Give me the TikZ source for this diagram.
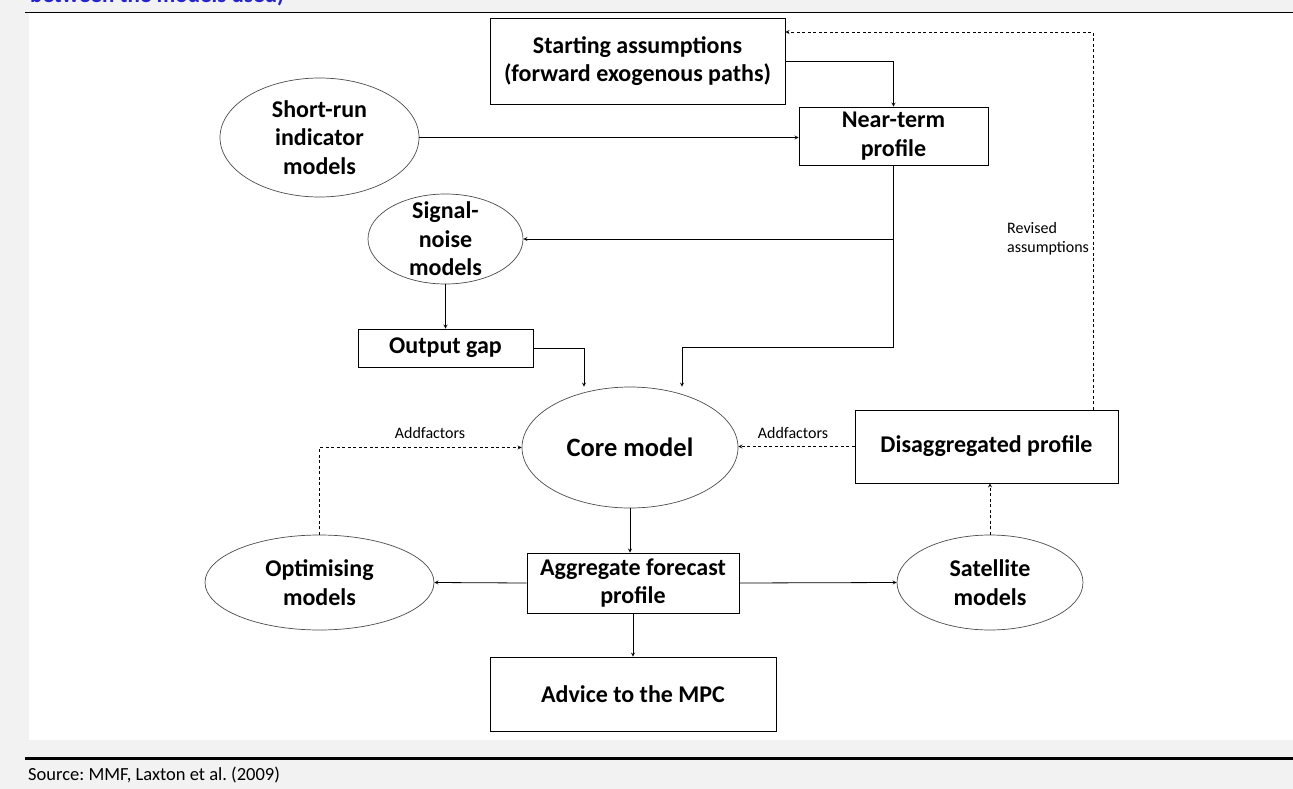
\documentclass[tikz,border=0pt]{standalone}
\usepackage{fontspec}
\setmainfont{Carlito}
\usetikzlibrary{shapes.geometric}

\definecolor{pagegrey}{RGB}{242,242,242}
\definecolor{headblue}{RGB}{36,36,204}

\frenchspacing

\begin{document}
\begin{tikzpicture}[x=1pt,y=-1pt,
  box/.style={draw, line width=0.8pt, inner sep=0pt, align=center,
    font=\fontsize{24}{28.5}\selectfont\bfseries},
  oval/.style={draw=black!70, line width=0.7pt, ellipse, inner sep=0pt},
  txt/.style={align=center, font=\fontsize{24}{28.5}\selectfont\bfseries},
  arr/.style={-stealth, line width=0.8pt},
  darr/.style={-stealth, line width=0.8pt, dash pattern=on 3pt off 2.5pt},
  note/.style={inner sep=0pt, font=\fontsize{16}{19}\selectfont}]

\useasboundingbox (0,0) rectangle (1293,789);

% page, panel and rules
\fill[pagegrey] (0,0) rectangle (1293,789);
\fill[white] (29,13) rectangle (1293,740);
\draw[line width=1.1pt] (25,12.5) -- (1293,12.5);
\draw[line width=2.5pt] (25,758.5) -- (1293,758.5);
\node[anchor=base west, inner sep=0pt, text=headblue,
  font=\fontsize{23}{26}\selectfont\bfseries] (head) at (30,2.5) {between the models used)};
\node[anchor=base west, inner sep=0pt,
  font=\fontsize{18.5}{20}\selectfont] (src) at (28,780) {Source: MMF, Laxton et al. (2009)};

% boxes
\node[box, minimum width=295pt, minimum height=86pt] (start) at (637.5,61) {Starting assumptions\\(forward exogenous paths)};
\node[box, minimum width=189pt, minimum height=58pt] (near) at (893.5,136) {Near-term\\profile};
\node[box, minimum width=175pt, minimum height=38pt] (outgap) at (445.5,348) {Output gap};
\node[box, minimum width=212pt, minimum height=60pt] (aggr) at (633,583) {Aggregate forecast\\profile};
\node[box, minimum width=286pt, minimum height=74pt] (advice) at (633,694) {Advice to the MPC};
\node[box, minimum width=263pt, minimum height=73pt] (disagg) at (986.5,446.5) {Disaggregated profile};

% ellipses
\node[oval, minimum width=199pt, minimum height=119pt,
  label={[txt]center:{Short-run\\indicator\\models}}] (shortrun) at (319.5,137.5) {};
\node[oval, minimum width=155pt, minimum height=90pt,
  label={[txt]center:{Signal-\\noise\\models}}] (signal) at (445.5,239) {};
\node[oval, minimum width=216pt, minimum height=121pt,
  label={[txt, font=\fontsize{26.5}{29}\selectfont\bfseries]center:{Core model}}] (core) at (630,447.5) {};
\node[oval, minimum width=229pt, minimum height=95pt,
  label={[txt]center:{Optimising\\models}}] (optim) at (319.5,582.5) {};
\node[oval, minimum width=186pt, minimum height=95pt,
  label={[txt]center:{Satellite\\models}}] (satel) at (990,582.5) {};

% solid flows
\draw[arr] (start.east) -| (near.north);
\draw[arr] (shortrun.east) -- (shortrun.east -| near.west);
\draw[arr] (near.south) |- (signal.east);
\coordinate (nturn) at (893.5,347);
\draw[arr] (near.south) -- (nturn) -| ([xshift=52pt]core.north);
\draw[arr] (signal.south) -- (outgap.north);
\draw[arr] (outgap.east) -| ([xshift=-46pt]core.north);
\draw[arr] (core.south) -- (core.south |- aggr.north);
\draw[arr] (aggr.west) -- (optim.east);
\draw[arr] (aggr.east) -- (satel.west);
\draw[arr] (aggr.south) -- (advice.north);

% dashed feedback
\draw[darr] (optim.north) |- (core.west);
\draw[darr] (disagg.west) -- (disagg.west -| core.east);
\draw[darr] (satel.north) -- (satel.north |- disagg.south);
\coordinate (rev) at (1093,32);
\draw[darr] (disagg.north -| rev) -- (rev) -- (rev -| start.east);

% labels
\node[note] (addl) at (430,433) {Addfactors};
\node[note] (addr) at (793,433) {Addfactors};
\node[note, anchor=west, align=left] (revl) at (1007,238.5) {Revised\\assumptions};

\end{tikzpicture}
\end{document}
